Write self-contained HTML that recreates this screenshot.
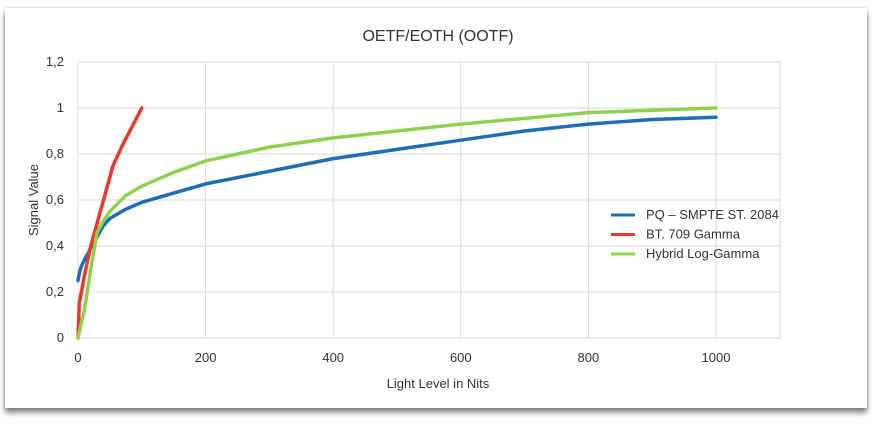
<!DOCTYPE html>
<html><head><meta charset="utf-8"><style>
body{margin:0;background:#fff;width:880px;height:428px;overflow:hidden;font-family:"Liberation Sans",sans-serif}
#card{position:absolute;left:5px;top:8px;width:862px;height:400px;background:#fff;box-shadow:0 5px 5px rgba(0,0,0,0.45),0 0 3px rgba(0,0,0,0.25)}
svg{position:absolute;left:0;top:0}
</style></head><body>
<div id="card"></div>
<svg id="c" width="880" height="428"></svg>
<script>
const xTicks=[0,200,400,600,800,1000];
const yTicks=[0,0.2,0.4,0.6,0.8,1,1.2];
const yTickLabels=["0","0,2","0,4","0,6","0,8","1","1,2"];
const pqX=[0,2,5,10,20,30,40,50,75,100,150,200,300,400,500,600,700,800,900,1000];
const pqY=[0.25,0.28,0.31,0.34,0.39,0.44,0.49,0.52,0.56,0.59,0.63,0.67,0.725,0.78,0.82,0.86,0.9,0.93,0.95,0.96];
const btX=[0,2,10,20,40,55,70,100];
const btY=[0,0.15,0.27,0.4,0.6,0.75,0.84,1.0];
const hlgX=[0,10,20,30,40,50,75,100,150,200,300,400,500,600,700,800,900,1000];
const hlgY=[0,0.12,0.3,0.46,0.51,0.55,0.62,0.66,0.72,0.77,0.83,0.87,0.9,0.93,0.955,0.98,0.99,1.0];
const series=[["pq-line","#1f6db4",pqX,pqY],["bt709-line","#e8392a",btX,btY],["hlg-line","#8fd14f",hlgX,hlgY]];
const names=["PQ – SMPTE ST. 2084","BT. 709 Gamma","Hybrid Log-Gamma"];
const X=v=>78+v*0.638, Y=v=>338-v*230;
const s=document.getElementById('c'),NS='http://www.w3.org/2000/svg';
function el(t,a,txt){const e=document.createElementNS(NS,t);for(const k in a)e.setAttribute(k,a[k]);if(txt!==undefined)e.textContent=txt;s.appendChild(e);return e;}
for(const v of xTicks){const e=el('line',{x1:X(v),x2:X(v),y1:62,y2:338,stroke:'#d9d9d9'});


const t=el('text',{x:X(v),y:362,'text-anchor':'middle','font-size':13,fill:'#333'},v);

}
el('line',{x1:780,x2:780,y1:62,y2:338,stroke:'#d9d9d9'});
yTicks.forEach((v,i)=>{const e=el('line',{x1:78,x2:780,y1:Y(v),y2:Y(v),stroke:'#d9d9d9'});


const t=el('text',{x:64,y:Y(v)+4,'text-anchor':'end','font-size':13,fill:'#333'},yTickLabels[i]);

});
series.forEach(([n,c,xs,ys])=>{const p=el('polyline',{points:xs.map((x,i)=>X(x)+','+Y(ys[i])).join(' '),fill:'none',stroke:c,'stroke-width':3.5,'stroke-linejoin':'round','stroke-linecap':'round'});

});
series.forEach(([n,c],i)=>{const y=215+i*19.5;
const l=el('line',{x1:611,x2:635,y1:y,y2:y,stroke:c,'stroke-width':3});


const t=el('text',{x:646,y:y+4,'font-size':13,fill:'#333'},names[i]);

});
const ti=el('text',{x:438,y:41,'text-anchor':'middle','font-size':16,fill:'#333'},'OETF/EOTH (OOTF)');


const xt=el('text',{x:438,y:388,'text-anchor':'middle','font-size':13,fill:'#333'},'Light Level in Nits');


const yt=el('text',{x:0,y:0,'text-anchor':'middle','font-size':13,fill:'#333',transform:'translate(38,200) rotate(-90)'},'Signal Value');


</script>
</body></html>
